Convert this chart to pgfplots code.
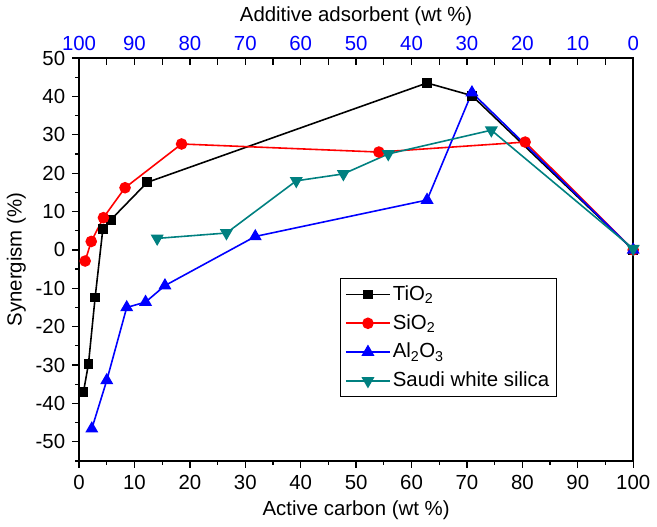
\documentclass[border=0pt]{standalone}
\usepackage{fontspec}
\setmainfont{Liberation Sans}
\usepackage{pgfplots}
\pgfplotsset{compat=1.18}
\definecolor{teal}{RGB}{0,128,128}

\begin{document}
\fontsize{20.5}{24}\selectfont
\begin{tikzpicture}
\begin{axis}[
    scale only axis,
    width=557pt, height=405pt,
    xmin=0, xmax=100, ymin=-55, ymax=50,
    xtick={0,10,...,100}, ytick={-50,-40,...,50},
    minor xtick={5,15,...,95}, minor ytick={-55,-45,...,45},
    xtick pos=bottom, ytick pos=left,
    tick align=outside,
    major tick length=7pt, minor tick length=4pt,
    tick style={black, line width=1.3pt},
    axis line style={line width=1.7pt},
    /pgf/number format/assume math mode=true,
    xlabel={Active carbon (wt \%)},
    ylabel={Synergism (\%)},
    xlabel style={yshift=2pt},
    ylabel style={yshift=-4pt},
    every axis plot/.append style={line width=1.6pt},
    legend style={at={(0.47,0.454)}, anchor=north west, draw=black, line width=1.2pt,
        cells={anchor=west}, row sep=7pt, inner sep=5pt,
        font=\fontsize{20.5}{24}\selectfont},
    legend image code/.code={
        \draw[mark repeat=2,mark phase=2] plot coordinates {(0cm,0cm) (0.78cm,0cm) (1.56cm,0cm)};},
]
\addplot[black, mark=square*, mark size=4.2pt] coordinates {
    (0.8,-37.0) (1.7,-29.7) (2.9,-12.4) (4.3,5.5) (5.7,7.8) (12.3,17.6)
    (62.8,43.5) (70.9,40.2) (100,0)
};
\addlegendentry{TiO\textsubscript{2}}
\addplot[red, mark=*, mark size=5pt] coordinates {
    (1.1,-2.9) (2.2,2.2) (4.4,8.4) (8.3,16.2) (18.5,27.6)
    (54.1,25.5) (80.5,28.1) (100,0)
};
\addlegendentry{SiO\textsubscript{2}}
\addplot[blue, mark=triangle*, mark size=6pt] coordinates {
    (2.3,-46.6) (5.0,-34.0) (8.6,-15.0) (12.0,-13.6) (15.5,-9.3)
    (31.8,3.5) (62.8,13.0) (70.9,41.0) (100,0)
};
\addlegendentry{Al\textsubscript{2}O\textsubscript{3}}
\addplot[teal, mark=triangle*, mark options={rotate=180}, mark size=6pt] coordinates {
    (14.1,3.0) (26.6,4.4) (39.2,18.0) (47.7,19.8) (55.8,25.0)
    (74.4,31.2) (100,0.3)
};
\addlegendentry{Saudi white silica\hspace{6pt}}
\end{axis}
\begin{axis}[
    scale only axis,
    width=557pt, height=405pt,
    xmin=0, xmax=100, ymin=-55, ymax=50,
    axis x line*=top, hide y axis,
    xtick={0,10,...,100},
    xticklabels={100,90,80,70,60,50,40,30,20,10,0},
    minor xtick={5,15,...,95},
    tick align=inside,
    major tick length=7pt, minor tick length=7pt,
    tick style={black, line width=1.3pt},
    axis line style={line width=1.7pt},
    xticklabel style={text=blue},
    xlabel={Additive adsorbent (wt \%)},
    xlabel style={yshift=-3pt},
]
\end{axis}
\end{tikzpicture}
\end{document}
